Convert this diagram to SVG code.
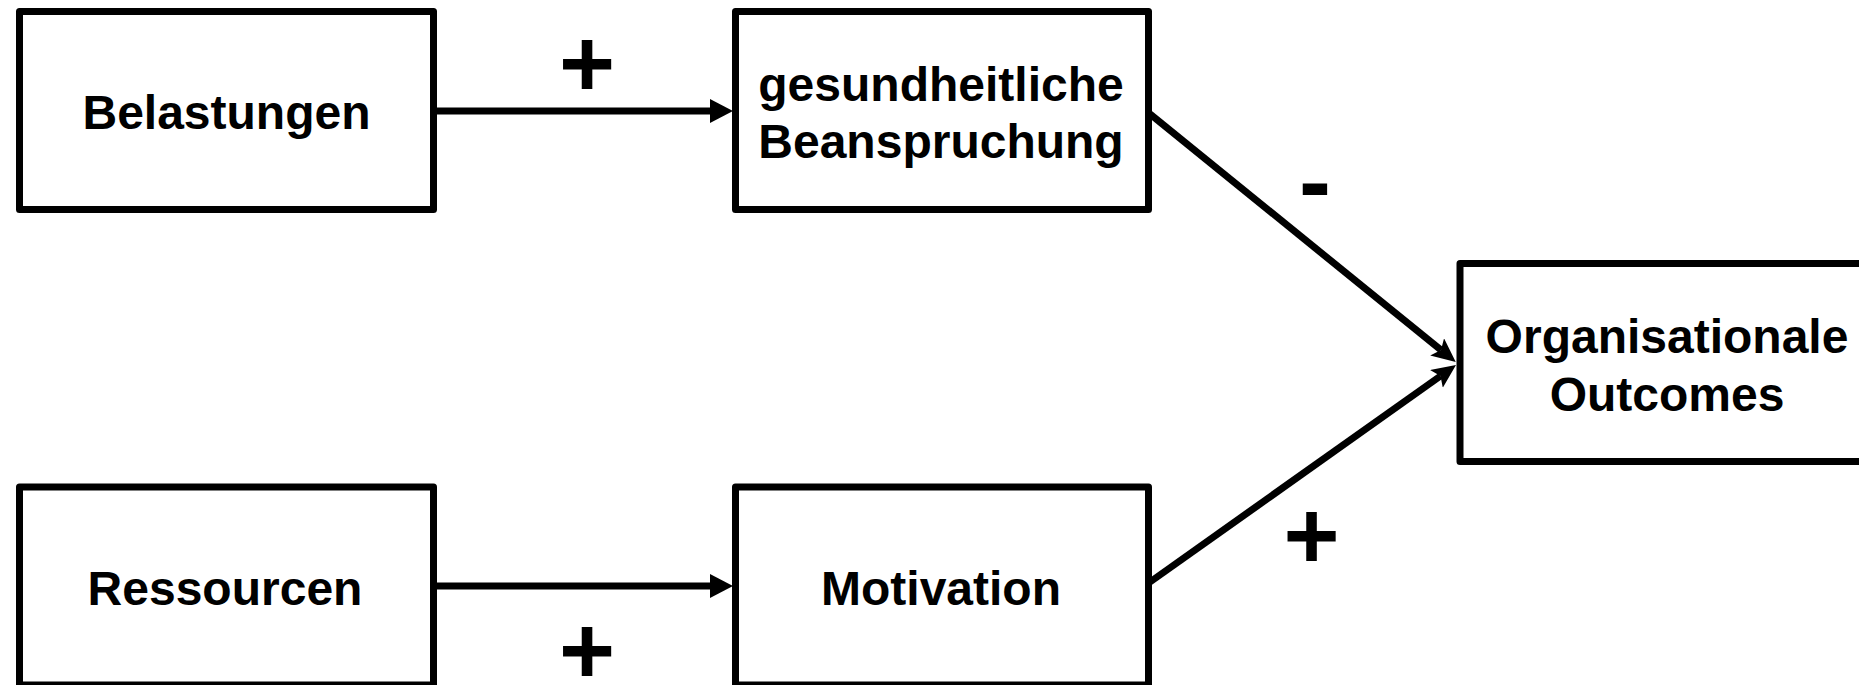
<svg xmlns="http://www.w3.org/2000/svg" width="1859" height="685" viewBox="0 0 1859 685">
<style>
.box{fill:#fff;stroke:#000;stroke-width:7;stroke-linejoin:round}
.lbl{font-family:"Liberation Sans",Arial,sans-serif;font-weight:bold;font-size:48px;fill:#000;text-anchor:middle}
.sign{font-family:"Liberation Sans",Arial,sans-serif;font-weight:bold;font-size:96px;fill:#000;text-anchor:middle}
.edge{stroke:#000;stroke-width:7;fill:none}
</style>
<defs>
<marker id="ah" markerUnits="userSpaceOnUse" markerWidth="24" markerHeight="24" refX="0" refY="12" orient="auto" viewBox="0 0 24 24">
<path d="M0,0 L23,12 L0,24 z" fill="#000"/>
</marker>
<marker id="ahn" markerUnits="userSpaceOnUse" markerWidth="26" markerHeight="24" refX="5" refY="11" orient="auto" viewBox="0 0 26 24">
<path d="M0,0 L24,11 L0,22 L5,11 z" fill="#000"/>
</marker>
</defs>
<rect width="1859" height="685" fill="#fff"/>
<g id="connectors">
<line class="edge" x1="434" y1="111" x2="710" y2="111" marker-end="url(#ah)"/>
<line class="edge" x1="434" y1="586" x2="710" y2="586" marker-end="url(#ah)"/>
<line class="edge" x1="1150" y1="114" x2="1441" y2="350" marker-end="url(#ahn)"/>
<line class="edge" x1="1150" y1="582" x2="1440.5" y2="376" marker-end="url(#ahn)"/>
<text class="sign" x="587" y="97">+</text>
<text class="sign" x="587" y="684">+</text>
<text class="sign" x="1315" y="214">-</text>
<text class="sign" x="1311.5" y="569">+</text>
</g>
<g id="belastungen">
<rect class="box" x="19.5" y="11.5" width="414" height="198"/>
<text class="lbl" x="226.5" y="129">Belastungen</text>
</g>
<g id="beanspruchung">
<rect class="box" x="735.5" y="11.5" width="413" height="198"/>
<text class="lbl" x="941" y="101">gesundheitliche</text>
<text class="lbl" x="941" y="158">Beanspruchung</text>
</g>
<g id="outcomes">
<rect class="box" x="1460" y="263.5" width="414" height="198"/>
<text class="lbl" x="1667" y="353">Organisationale</text>
<text class="lbl" x="1667" y="411">Outcomes</text>
</g>
<g id="ressourcen">
<rect class="box" x="19.5" y="487" width="414" height="198"/>
<text class="lbl" x="225" y="605">Ressourcen</text>
</g>
<g id="motivation">
<rect class="box" x="735.5" y="487" width="413" height="198"/>
<text class="lbl" x="941" y="605">Motivation</text>
</g>
</svg>
